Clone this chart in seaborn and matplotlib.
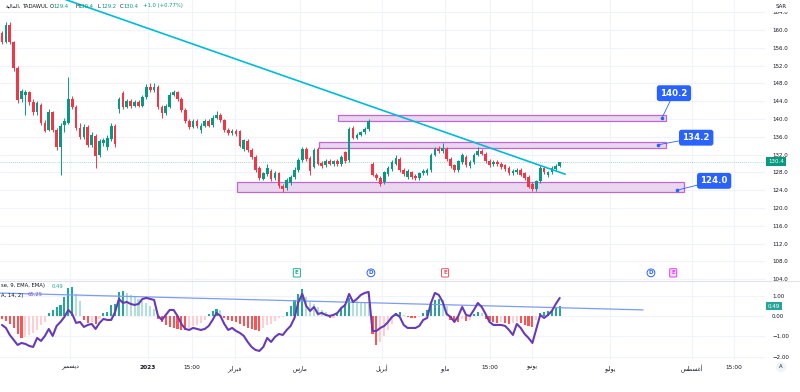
import numpy as np
import pandas as pd
import seaborn as sns
import matplotlib.pyplot as plt
import matplotlib.transforms as mtransforms
from matplotlib.patches import Rectangle
from matplotlib.lines import Line2D

sns.set_theme(style="white")
plt.rcParams['font.family'] = ['DejaVu Sans']

# daily candles
opens = [159.3, 157.3, 161.2, 157.2, 151.5, 144.4, 145.4, 146.0, 143.8, 141.5,
         143.2, 139.2, 137.6, 141.5, 137.6, 133.6, 138.6, 139.2, 144.5, 142.8,
         138.0, 136.0, 138.2, 134.2, 136.2, 131.8, 134.6, 133.6, 135.6, 138.4,
         142.2, 145.8, 142.8, 144.0, 143.0, 143.8, 143.0, 145.0, 147.2, 146.5,
         147.3, 142.8, 141.4, 142.8, 145.5, 146.1, 144.5, 142.0, 139.5, 138.2,
         139.5, 137.5, 138.5, 139.5, 138.6, 140.3, 141.0, 139.8, 137.5, 136.8,
         137.3, 137.2, 133.2, 135.0, 133.0, 131.5, 129.0, 126.6, 127.6, 128.3,
         126.8, 127.8, 125.0, 124.5, 125.6, 127.0, 128.5, 130.8, 133.2, 131.2,
         129.3, 133.2, 130.2, 129.6, 130.6, 129.8, 130.6, 129.8, 132.5, 130.8,
         138.0, 135.8, 136.5, 137.0, 137.8, 130.0, 127.5, 126.8, 125.8, 127.6,
         128.8, 130.0, 131.0, 128.6, 127.0, 128.0, 127.3, 126.8, 127.8, 127.8,
         128.5, 132.0, 133.3, 132.8, 133.2, 131.0, 129.6, 128.6, 130.3, 131.5,
         129.5, 130.3, 132.0, 132.8, 132.2, 130.6, 129.8, 130.3, 129.9, 129.6,
         129.0, 127.8, 128.0, 128.6, 127.8, 127.0, 125.5, 124.2, 126.0, 129.0,
         127.4, 128.0, 128.8, 129.4]
closes = [157.3, 161.2, 157.2, 151.5, 144.2, 146.2, 146.0, 143.8, 141.5, 143.5,
          139.2, 137.4, 141.5, 137.6, 133.6, 138.4, 139.6, 144.5, 142.8, 138.0,
          136.0, 138.2, 134.2, 136.4, 131.6, 135.0, 135.3, 135.8, 138.5, 134.4,
          144.5, 142.8, 144.0, 143.0, 143.8, 143.0, 145.0, 147.2, 146.5, 147.3,
          142.8, 141.4, 143.0, 145.5, 146.1, 144.5, 142.0, 139.5, 138.2, 139.5,
          138.5, 138.5, 139.5, 138.5, 140.3, 141.0, 139.8, 137.5, 136.8, 137.3,
          136.6, 134.0, 135.2, 133.0, 131.5, 128.5, 126.8, 127.8, 129.0, 126.5,
          127.8, 125.0, 124.2, 126.3, 127.0, 128.5, 130.8, 133.2, 131.0, 128.3,
          133.0, 130.0, 129.5, 130.6, 130.0, 130.5, 129.8, 131.5, 130.5, 137.8,
          135.8, 136.5, 137.0, 137.8, 139.5, 127.5, 126.7, 125.3, 128.0, 129.0,
          130.3, 131.3, 128.5, 127.6, 128.3, 127.0, 126.7, 127.8, 128.3, 128.6,
          132.0, 133.3, 132.8, 133.4, 131.0, 129.5, 128.6, 130.5, 132.0, 129.7,
          130.3, 132.0, 132.8, 132.2, 130.6, 129.7, 130.3, 129.8, 129.2, 128.8,
          127.8, 128.3, 128.5, 127.5, 126.8, 124.8, 124.2, 126.0, 129.0, 128.0,
          128.0, 129.0, 129.4, 130.4]
highs = [159.8, 161.8, 161.8, 157.6, 152.0, 146.8, 146.6, 146.4, 144.5, 144.0,
         143.6, 139.8, 142.2, 141.9, 138.0, 139.0, 140.2, 149.5, 145.2, 143.2,
         139.0, 138.8, 138.6, 137.0, 136.6, 135.6, 135.8, 136.4, 139.0, 138.8,
         145.0, 146.3, 144.6, 144.4, 144.3, 144.2, 145.5, 147.8, 148.0, 148.0,
         147.6, 143.2, 143.4, 146.0, 146.6, 146.4, 144.9, 142.4, 140.0, 140.0,
         139.9, 139.0, 140.0, 139.9, 140.8, 141.8, 141.3, 140.1, 137.9, 137.7,
         137.7, 137.5, 135.6, 135.4, 133.4, 131.9, 129.4, 128.2, 129.8, 128.7,
         128.3, 128.1, 125.4, 126.8, 127.5, 129.2, 131.3, 133.8, 133.6, 131.6,
         133.5, 133.6, 130.6, 131.0, 131.0, 130.9, 131.0, 132.0, 132.9, 138.3,
         138.4, 136.9, 137.4, 138.2, 140.0, 130.4, 127.9, 127.2, 128.4, 129.4,
         130.7, 132.0, 131.4, 129.0, 128.7, 128.4, 127.7, 128.2, 128.7, 129.0,
         132.4, 133.8, 134.0, 134.6, 133.6, 131.4, 130.0, 130.9, 132.4, 131.9,
         130.7, 132.4, 133.7, 133.2, 132.6, 131.0, 130.7, 130.7, 130.3, 130.0,
         129.4, 128.7, 128.9, 129.0, 128.2, 127.4, 125.9, 126.4, 129.6, 129.4,
         128.4, 129.4, 130.0, 130.4]
lows = [156.8, 157.0, 156.8, 150.8, 143.6, 143.8, 141.0, 143.2, 141.0, 141.0,
        138.6, 137.0, 137.2, 137.0, 133.0, 127.4, 137.0, 138.8, 142.2, 137.5,
        135.5, 135.6, 133.6, 133.8, 129.0, 131.4, 134.0, 133.0, 135.0, 133.8,
        141.3, 142.2, 142.4, 142.5, 142.6, 142.6, 142.7, 144.6, 146.0, 146.1,
        142.3, 140.3, 141.0, 142.4, 145.1, 144.0, 141.6, 139.0, 137.8, 137.9,
        138.0, 136.8, 138.1, 138.1, 138.2, 140.0, 139.4, 137.1, 136.4, 136.5,
        136.2, 133.6, 132.8, 132.6, 131.0, 128.0, 126.3, 126.2, 127.2, 126.0,
        126.4, 124.6, 123.6, 124.1, 125.2, 126.6, 128.1, 130.4, 130.6, 127.5,
        128.9, 129.6, 129.1, 129.2, 129.6, 129.4, 129.4, 129.4, 130.1, 130.4,
        135.4, 135.4, 136.1, 136.6, 137.4, 127.1, 126.2, 124.9, 125.4, 127.2,
        128.4, 129.6, 128.1, 127.2, 126.6, 126.6, 126.3, 126.4, 127.4, 127.4,
        128.1, 131.6, 132.4, 132.4, 130.6, 129.1, 128.2, 128.2, 129.9, 129.3,
        129.1, 129.9, 131.6, 131.8, 130.2, 129.3, 129.4, 129.4, 128.8, 128.4,
        127.4, 127.4, 127.6, 127.1, 126.4, 124.4, 123.8, 123.9, 125.6, 127.6,
        127.0, 127.6, 128.4, 129.2]

# lower pane: histogram and oscillator
macd_hist = [-0.15, -0.25, -0.4, -0.6, -0.9, -1.1, -1.05, -0.95, -0.85, -0.7,
             -0.45, -0.3, 0.15, 0.3, 0.45, 0.55, 0.95, 1.4, 1.45, 1.1,
             0.75, -0.2, -0.35, -0.3, -0.4, -0.15, 0.15, 0.2, 0.55, 0.6,
             1.2, 1.25, 1.15, 1.05, 0.95, 0.85, 0.75, 0.65, 0.5, 0.35,
             -0.15, -0.3, -0.45, -0.55, -0.6, -0.65, -0.7, -0.7, -0.6, -0.5,
             -0.45, -0.35, -0.2, 0.1, 0.25, 0.35, 0.3, -0.1, -0.2, -0.25,
             -0.3, -0.4, -0.5, -0.6, -0.65, -0.7, -0.72, -0.6, -0.45, -0.4,
             -0.25, -0.1, -0.05, 0.2, 0.5, 0.8, 1.1, 1.33, 0.95, 0.75,
             0.6, 0.45, 0.3, 0.2, -0.1, -0.08, 0.1, 0.35, 0.6, 0.9,
             0.8, 0.75, 0.7, 0.65, 0.6, -0.9, -1.45, -1.3, -1.0, -0.7,
             -0.4, 0.15, 0.2, 0.05, -0.05, -0.08, -0.1, -0.05, 0.15, 0.3,
             0.55, 0.8, 0.85, 0.8, 0.5, -0.2, -0.25, -0.3, -0.15, -0.25,
             -0.2, 0.1, 0.2, 0.15, -0.15, -0.25, -0.3, -0.35, -0.3, -0.35,
             -0.4, -0.35, -0.3, -0.35, -0.45, -0.5, -0.55, -0.2, 0.15, 0.2,
             0.25, 0.3, 0.4, 0.49]
osc = [41.0, 38.3, 32.0, 27.5, 23.0, 24.8, 23.9, 22.1, 21.2, 29.3,
       26.6, 31.1, 37.4, 31.1, 40.1, 43.7, 48.2, 54.5, 50.9, 42.8,
       43.7, 39.2, 41.0, 41.9, 37.4, 42.8, 46.4, 45.5, 45.5, 52.7,
       64.4, 60.8, 61.7, 59.9, 59.0, 59.9, 64.4, 65.3, 64.4, 63.5,
       49.1, 45.5, 50.0, 54.5, 54.5, 49.1, 41.9, 37.4, 36.5, 38.3,
       37.4, 36.5, 37.4, 40.1, 45.5, 51.8, 49.1, 41.9, 36.5, 38.3,
       35.6, 33.8, 31.1, 25.7, 21.2, 18.5, 17.6, 21.2, 29.3, 25.7,
       30.2, 32.9, 32.0, 36.5, 40.1, 47.3, 61.7, 68.9, 58.1, 53.6,
       57.2, 50.9, 51.8, 50.0, 49.1, 50.0, 51.8, 56.3, 59.0, 68.9,
       61.7, 64.4, 68.0, 69.8, 70.7, 35.6, 35.6, 38.3, 40.1, 43.7,
       48.2, 50.9, 48.2, 41.0, 38.3, 38.3, 38.3, 40.1, 45.5, 47.3,
       60.8, 69.8, 68.0, 61.7, 50.9, 48.2, 43.7, 49.1, 57.2, 50.0,
       49.1, 54.5, 60.8, 57.2, 50.9, 43.7, 41.0, 41.0, 41.0, 40.1,
       36.5, 32.0, 41.9, 38.3, 32.9, 29.3, 24.8, 37.4, 50.0, 47.3,
       50.0, 53.6, 59.9, 65.25]

# drawings
trend_x = [5.0, 144.4]
trend_y = [170.3, 127.6]
hist_trend_x = [-0.5, 164.4]
hist_trend_y = [1.13, 0.30]
zone_left = [86.2, 81.3, 60.3]
zone_right = [170.2, 170.2, 174.9]
zone_low = [139.6, 133.4, 123.5]
zone_high = [140.8, 134.9, 125.8]
zone_text = ['140.2', '134.2', '124.0']
zone_dot_x = [169.2, 168.2, 173.1]
zone_dot_y = [140.2, 134.2, 124.0]
zone_lab_x = [172.3, 178.0, 182.6]
zone_lab_y = [145.8, 135.8, 126.1]
last_price = 130.4
last_hist = 0.49

ev_x = [75.6, 94.6, 113.6, 166.4, 172.1]
ev_txt = ['E', 'D', 'E', 'D', 'E']
ev_col = ['#22ab94', '#2962ff', '#f7525f', '#2962ff', '#e040fb']
ev_fill = ['white', 'white', 'white', 'white', '#f8d7fb']

# time axis (Arabic month names in display form)
tick_pos = [17.4, 37.4, 48.7, 59.7, 76.4, 97.4, 113.6, 125.1, 135.9, 155.9, 176.9, 187.7]
tick_labels = ['\ufeae\ufe92\ufee4\ufeb4\ufef3\ufea9', '2023', '15:00',
               '\ufeae\ufef3\ufe8d\ufeae\ufe92\ufed3', '\ufeb1\ufead\ufe8e\ufee3',
               '\ufede\ufef3\ufeae\ufe91\ufe83', '\ufeee\ufef3\ufe8e\ufee3', '15:00',
               '\ufeee\ufef4\ufee7\ufeee\ufef3', '\ufeee\ufef4\ufedf\ufeee\ufef3',
               '\ufeb2\ufec4\ufeb4\ufecf\ufe83', '15:00']
price_ticks = [104, 108, 112, 116, 120, 124, 128, 132, 136, 140, 144, 148, 152, 156, 160, 164]
hist_ticks = [1, 0, -1, -2]
hist_tick_labels = ['1.00', '0.00', '\u22121.00', '\u22122.00']

df = pd.DataFrame({'i': np.arange(len(closes)), 'o': opens, 'h': highs,
                   'l': lows, 'c': closes, 'mh': macd_hist, 'osc': osc})

UP, DOWN = '#089981', '#f23645'
TXT = '#131722'
GRID = '#f0f3fa'

W, H = 800, 392
fig = plt.figure(figsize=(8, 3.92), dpi=100)
ax = fig.add_axes([0, 1 - 281 / H, 765 / W, 281 / H])
ax2 = fig.add_axes([0, 1 - 360 / H, 765 / W, 79 / H], sharex=ax)

# candles
col = np.where(df['c'] >= df['o'], UP, DOWN)
ax.vlines(df['i'], df['l'], df['h'], color=col, lw=0.7, zorder=3)
body = np.maximum((df['c'] - df['o']).abs(), 0.12)
ax.bar(df['i'], body, bottom=np.minimum(df['o'], df['c']), width=0.68, color=col,
       linewidth=0, zorder=4)

# zones
for x0, x1, y0, y1 in zip(zone_left, zone_right, zone_low, zone_high):
    ax.add_patch(Rectangle((x0, y0), x1 - x0, y1 - y0, facecolor='#ead6ef',
                           edgecolor='#c167d3', lw=0.9, zorder=2))

# trend line
ax.plot(trend_x, trend_y, color='#00bcd4', lw=1.2, zorder=5)

# current price line
ax.axhline(last_price, color=UP, lw=0.6, ls=(0, (1, 1.5)), alpha=0.5, zorder=1)

# zone labels
for tx, ty, dx, dy, t in zip(zone_lab_x, zone_lab_y, zone_dot_x, zone_dot_y, zone_text):
    ax.plot(dx, dy, 'o', ms=1.6, color='#2962ff', zorder=6)
    ax.annotate(t, xy=(dx, dy), xytext=(tx, ty), ha='center', va='center',
                fontsize=6.2, fontweight='bold', color='white', zorder=7,
                bbox=dict(boxstyle='round,pad=0.4,rounding_size=0.3', fc='#2962ff', ec='none'),
                arrowprops=dict(arrowstyle='-', color='#2962ff', lw=0.6,
                                shrinkA=0, shrinkB=0))

# event markers
evt = mtransforms.blended_transform_factory(ax.transData, ax.transAxes)
for x, t, c, f in zip(ev_x, ev_txt, ev_col, ev_fill):
    style = 'circle,pad=0.25' if t == 'D' else 'round,pad=0.3,rounding_size=0.15'
    ax.text(x, 0.029, t, transform=evt, ha='center', va='center', fontsize=4,
            color=c, fontweight='bold', zorder=7,
            bbox=dict(boxstyle=style, fc=f, ec=c, lw=0.7))

ax.set_ylim(103.6, 166.74)
ax.set_xlim(-0.513, 195.64)

# lower pane histogram
hcol = []
prev = 0.0
for v in macd_hist:
    if v >= 0:
        hcol.append('#26a69a' if v >= prev else '#b2dfdb')
    else:
        hcol.append('#ff5252' if v <= prev else '#ffcdd2')
    prev = v
ax2.bar(df['i'], df['mh'], width=0.55, color=hcol, linewidth=0, zorder=3)
ax2.plot(hist_trend_x, hist_trend_y, color='#7d9cf5', lw=0.9, zorder=4)
ax2.set_ylim(-2.167, 1.724)

ax3 = ax2.twinx()
sns.lineplot(data=df, x='i', y='osc', ax=ax3, color='#673ab7', lw=1.5, zorder=5)
ax3.set_ylim(9.45, 80.55)
ax3.set_yticks([])
ax3.set_ylabel('')
ax3.set_xlabel('')
for s in ax3.spines.values():
    s.set_visible(False)

# axes styling
for a in (ax, ax2):
    a.set_xticks(tick_pos)
    a.grid(True, color=GRID, lw=0.8)
    a.set_axisbelow(True)
    for s in a.spines.values():
        s.set_visible(False)
    a.yaxis.tick_right()
    a.tick_params(axis='y', length=0, pad=5, labelsize=4, labelcolor=TXT)
    a.set_xlabel('')
    a.set_ylabel('')

ax.set_yticks(price_ticks)
ax.set_yticklabels([f'{p:.1f}' for p in price_ticks])
ax.tick_params(axis='x', length=0, labelbottom=False)

ax2.set_yticks(hist_ticks)
ax2.set_yticklabels(hist_tick_labels)
ax2.set_xticklabels(tick_labels)
ax2.tick_params(axis='x', length=0, pad=3.5, labelsize=4.2, labelcolor=TXT)
ax2.get_xticklabels()[1].set_fontweight('bold')
ax2.set_xlim(-0.513, 195.64)

# right-scale value boxes
bt = mtransforms.blended_transform_factory(ax.transAxes, ax.transData)
ax.text(1.004, last_price, f'{last_price:.1f}', transform=bt, ha='left', va='center',
        fontsize=4, color='white', zorder=8,
        bbox=dict(boxstyle='square,pad=0.35', fc=UP, ec='none'))
bt2 = mtransforms.blended_transform_factory(ax2.transAxes, ax2.transData)
ax2.text(1.004, last_hist, f'{last_hist:.2f}', transform=bt2, ha='left', va='center',
         fontsize=4, color='white', zorder=8,
         bbox=dict(boxstyle='square,pad=0.35', fc='#26a69a', ec='none'))

# pane separator
fig.add_artist(Line2D([0, 1], [1 - 281 / H, 1 - 281 / H], color='#e0e3eb', lw=0.8))

# header and legends
def fy(y):
    return 1 - y / H

fig.text(776 / W, fy(6), 'SAR', fontsize=4, color=TXT, va='center', ha='left',
         bbox=dict(boxstyle='square,pad=0.6', fc='white', ec='none'))
fig.text(21 / W, fy(6), '\ufe94\ufef4\ufedf\ufe8e\ufee4\ufedf\ufe8d,', fontsize=3.8,
         color=TXT, va='center', ha='right')
fig.text(23 / W, fy(6), 'TADAWUL', fontsize=3.8, color=TXT, va='center')
hdr = [('O', '129.4', 50), ('H', '130.4', 75), ('L', '129.2', 98), ('C', '130.4', 120)]
for k, v, x in hdr:
    fig.text(x / W, fy(6), k, fontsize=3.8, color=TXT, va='center')
    fig.text((x + 3.5) / W, fy(6), v, fontsize=3.8, color=UP, va='center')
fig.text(143 / W, fy(6), '+1.0 (+0.77%)', fontsize=3.8, color=UP, va='center')

fig.text(1 / W, fy(286), 'se, 9, EMA, EMA)', fontsize=3.8,
         color=TXT, va='center', ha='left')
fig.text(52 / W, fy(286), f'{last_hist:.2f}', fontsize=3.8, color='#26a69a', va='center')
fig.text(1 / W, fy(295), 'A, 14, 2)', fontsize=3.8,
         color=TXT, va='center', ha='left')
fig.text(28 / W, fy(295), f'{osc[-1]:.2f}', fontsize=3.8, color='#7e57c2', va='center')

fig.text(781 / W, fy(367), 'A', fontsize=3.8, color=TXT, va='center', ha='center',
         bbox=dict(boxstyle='circle,pad=0.5', fc='#f0f3fa', ec='none'))

fig.savefig('out.png', dpi=100, facecolor='white')
